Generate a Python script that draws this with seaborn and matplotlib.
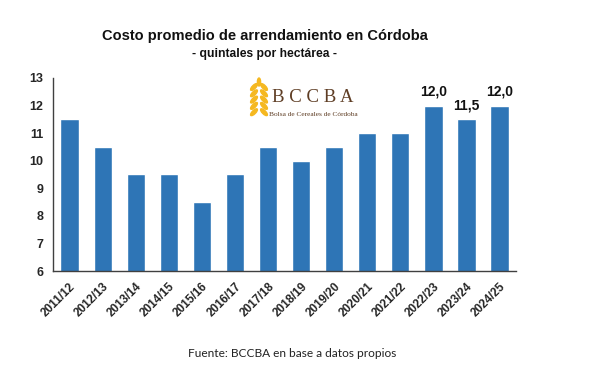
import matplotlib
matplotlib.use("Agg")
import matplotlib.pyplot as plt
import seaborn as sns
import pandas as pd
from matplotlib.patches import Ellipse

# Datos
campanias = ['2011/12', '2012/13', '2013/14', '2014/15', '2015/16', '2016/17', '2017/18',
             '2018/19', '2019/20', '2020/21', '2021/22', '2022/23', '2023/24', '2024/25']
costo = [11.5, 10.5, 9.5, 9.5, 8.5, 9.5, 10.5, 10.0, 10.5, 11.0, 11.0, 12.0, 11.5, 12.0]
etiquetas = {'2022/23': '12,0', '2023/24': '11,5', '2024/25': '12,0'}
y_ticks = [6, 7, 8, 9, 10, 11, 12, 13]

df = pd.DataFrame({'campania': campanias, 'costo': costo})

sns.set_style('white')
plt.rcParams['font.family'] = ['Liberation Sans', 'DejaVu Sans']

fig = plt.figure(figsize=(5.9, 3.83), dpi=100)
ax = fig.add_axes([0.0898, 0.2924, 0.785, 0.504])

sns.barplot(data=df, x='campania', y='costo', color='#2e75b6', saturation=1,
            width=0.55, ax=ax)

ax.set_ylim(6, 13)
ax.set_yticks(y_ticks)
ax.set_yticklabels([str(t) for t in y_ticks], fontsize=9, fontweight='bold')
ax.set_xlim(-0.5, len(campanias) - 0.5)
ax.set_xticks(range(len(campanias)))
ax.set_xticklabels(campanias, rotation=45, ha='right', rotation_mode='anchor',
                   fontsize=8.5, fontweight='bold')
ax.tick_params(axis='both', length=0, pad=7)
ax.set_xlabel('')
ax.set_ylabel('')

for s in ['top', 'right']:
    ax.spines[s].set_visible(False)
for s in ['left', 'bottom']:
    ax.spines[s].set_color('#404040')
    ax.spines[s].set_linewidth(1)

# Etiquetas de las ultimas campañas
for i, c in enumerate(campanias):
    if c in etiquetas:
        ax.text(i, costo[i] + 0.25, etiquetas[c], ha='center', va='bottom',
                fontsize=10, fontweight='bold', color='#111111')

# Titulos
fig.text(0.449, 0.906, 'Costo promedio de arrendamiento en Córdoba', ha='center',
         va='center', fontsize=10.5, fontweight='bold', color='#111111')
fig.text(0.449, 0.858, '- quintales por hectárea -', ha='center', va='center',
         fontsize=8.7, fontweight='bold', color='#111111')
fig.text(0.496, 0.076, 'Fuente: BCCBA en base a datos propios', ha='center',
         va='center', fontsize=8.6, family=['Lato', 'DejaVu Sans'], color='#222222')

# Logo (capa en pixeles)
logo = fig.add_axes([0, 0, 1, 1], facecolor='none')
logo.set_xlim(0, 590)
logo.set_ylim(383, 0)
logo.axis('off')
logo.text(313, 98, 'B C C B A', ha='center', va='center', fontsize=13.5,
          family='Liberation Serif', color='#5e3d24')
logo.text(313, 114, 'Bolsa de Cereales de Córdoba', ha='center', va='center',
          fontsize=5.3, family='Liberation Serif', color='#5e3d24')
for k in range(5):
    yy = 87 + k * 6.3
    logo.add_patch(Ellipse((254, yy), 3.5, 9, angle=45, color='#f5b820'))
    logo.add_patch(Ellipse((264, yy), 3.5, 9, angle=-45, color='#f5b820'))
logo.add_patch(Ellipse((259, 82), 3.2, 8, angle=0, color='#f5b820'))

fig.savefig('out.png', dpi=100)
